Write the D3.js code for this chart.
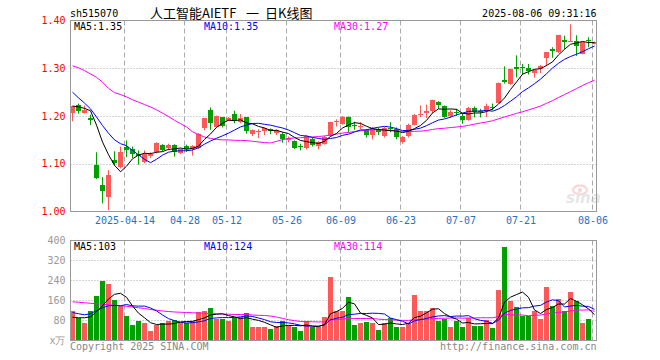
<!DOCTYPE html>
<html>
<head>
<meta charset="utf-8">
<script src="https://cdn.jsdelivr.net/npm/d3@7/dist/d3.min.js"></script>
<style>
  body { margin: 0; background: #fff; }
  svg text { font-family: "DejaVu Sans Mono", monospace; font-size: 10px; }
</style>
</head>
<body>
<svg width="660" height="360"></svg>
<script>
// trading days shown on the chart
const dates = [
  "2025-03-31","2025-04-01","2025-04-02","2025-04-03","2025-04-07","2025-04-08","2025-04-09","2025-04-10","2025-04-11",
  "2025-04-14","2025-04-15","2025-04-16","2025-04-17","2025-04-18","2025-04-21","2025-04-22","2025-04-23","2025-04-24","2025-04-25",
  "2025-04-28","2025-04-29","2025-04-30","2025-05-06","2025-05-07","2025-05-08","2025-05-09",
  "2025-05-12","2025-05-13","2025-05-14","2025-05-15","2025-05-16","2025-05-19","2025-05-20","2025-05-21","2025-05-22","2025-05-23",
  "2025-05-26","2025-05-27","2025-05-28","2025-05-29","2025-05-30","2025-06-03","2025-06-04","2025-06-05","2025-06-06",
  "2025-06-09","2025-06-10","2025-06-11","2025-06-12","2025-06-13","2025-06-16","2025-06-17","2025-06-18","2025-06-19","2025-06-20",
  "2025-06-23","2025-06-24","2025-06-25","2025-06-26","2025-06-27","2025-06-30","2025-07-01","2025-07-02","2025-07-03","2025-07-04",
  "2025-07-07","2025-07-08","2025-07-09","2025-07-10","2025-07-11","2025-07-14","2025-07-15","2025-07-16","2025-07-17","2025-07-18",
  "2025-07-21","2025-07-22","2025-07-23","2025-07-24","2025-07-25","2025-07-28","2025-07-29","2025-07-30","2025-07-31","2025-08-01",
  "2025-08-04","2025-08-05","2025-08-06"
];

const open = [
  1.206,1.222,1.207,1.195,1.098,1.056,1.030,1.107,1.093,1.135,
  1.131,1.121,1.104,1.117,1.124,1.140,1.133,1.140,1.123,1.137,
  1.130,1.133,1.175,1.212,1.178,1.197,1.191,1.205,1.188,1.197,
  1.163,1.166,1.169,1.173,1.165,1.163,1.149,1.148,1.138,1.134,
  1.151,1.137,1.142,1.159,1.187,1.184,1.197,1.182,1.177,1.171,
  1.161,1.172,1.159,1.175,1.172,1.146,1.159,1.182,1.203,1.207,
  1.211,1.230,1.220,1.199,1.209,1.200,1.191,1.217,1.211,1.210,
  1.219,1.228,1.276,1.268,1.302,1.302,1.300,1.291,1.298,1.322,
  1.341,1.333,1.360,1.356,1.358,1.330,1.359,1.351
];
const high = [
  1.221,1.226,1.222,1.203,1.124,1.072,1.087,1.126,1.136,1.149,
  1.136,1.128,1.128,1.124,1.145,1.141,1.142,1.141,1.132,1.140,
  1.139,1.164,1.196,1.218,1.201,1.198,1.198,1.211,1.204,1.198,
  1.172,1.172,1.175,1.174,1.172,1.166,1.157,1.149,1.142,1.160,
  1.155,1.148,1.158,1.188,1.193,1.200,1.199,1.188,1.187,1.173,
  1.177,1.175,1.177,1.187,1.176,1.158,1.184,1.204,1.222,1.224,
  1.234,1.231,1.222,1.213,1.215,1.205,1.219,1.220,1.215,1.226,
  1.226,1.270,1.304,1.299,1.327,1.309,1.309,1.298,1.307,1.334,
  1.344,1.370,1.368,1.392,1.369,1.355,1.365,1.356
];
const low = [
  1.189,1.205,1.205,1.181,1.068,1.017,1.003,1.096,1.090,1.114,
  1.112,1.098,1.101,1.112,1.122,1.126,1.128,1.115,1.120,1.125,
  1.117,1.131,1.170,1.171,1.176,1.176,1.189,1.185,1.185,1.163,
  1.158,1.154,1.160,1.162,1.160,1.144,1.145,1.131,1.128,1.130,
  1.136,1.130,1.140,1.157,1.178,1.182,1.165,1.171,1.172,1.155,
  1.151,1.160,1.155,1.166,1.151,1.142,1.155,1.180,1.198,1.196,
  1.206,1.215,1.196,1.196,1.200,1.184,1.190,1.197,1.197,1.198,
  1.212,1.227,1.268,1.265,1.281,1.287,1.287,1.280,1.290,1.304,
  1.322,1.332,1.340,1.355,1.326,1.329,1.344,1.350
];
const close = [
  1.220,1.210,1.212,1.192,1.071,1.043,1.077,1.101,1.124,1.129,
  1.121,1.116,1.120,1.120,1.143,1.128,1.140,1.124,1.130,1.130,
  1.137,1.163,1.195,1.186,1.200,1.180,1.195,1.190,1.195,1.168,
  1.170,1.168,1.174,1.168,1.170,1.151,1.153,1.134,1.136,1.158,
  1.140,1.145,1.156,1.187,1.189,1.197,1.177,1.180,1.179,1.160,
  1.172,1.167,1.175,1.172,1.157,1.155,1.181,1.203,1.205,1.210,
  1.233,1.224,1.198,1.209,1.206,1.191,1.217,1.209,1.209,1.220,
  1.218,1.269,1.272,1.298,1.299,1.300,1.295,1.297,1.304,1.333,
  1.337,1.369,1.355,1.357,1.346,1.354,1.357,1.354
];
// volume, in units of 10k
const volume = [
  117,91,69,117,180,237,225,164,139,100,
  64,80,72,40,64,72,80,83,72,72,
  77,113,117,131,88,85,77,91,96,109,
  53,53,53,45,60,80,64,53,37,77,
  56,53,96,253,120,120,176,64,69,73,
  69,44,72,91,56,56,71,184,120,120,
  131,80,87,53,77,53,91,57,57,83,
  49,204,373,157,136,99,99,120,85,216,
  140,168,120,196,160,69,88,4
];

// moving average values at the left edge (history before the window)
const ma5Head = [1.221,1.219,1.216,1.211];
const ma10Head = [1.250,1.238,1.227,1.215,1.198,1.180,1.164,1.150,1.142];
const ma30Head = [1.305,1.301,1.295,1.288,1.281,1.271,1.258,1.249,1.245,1.240,
  1.234,1.229,1.224,1.219,1.213,1.206,1.199,1.191,1.184,1.177,
  1.167,1.161,1.156,1.153,1.151,1.150,1.150,1.149,1.149];
const vma5Head = [93,91,91,95];
const vma10Head = [112,107,103,107,120,131,139,140,139];
const vma30Head = [155,153,151,149,147,145,143,141,139,137,
  134,131,128,124,121,118,116,114,113,112,
  111,110,109,108,107,106,105,104,104];

const priceTicks = [1.00,1.10,1.20,1.30,1.40];
const volTicks = [0,80,160,240,320,400];
const tickDates = ["2025-04-14","2025-04-28","2025-05-12","2025-05-26","2025-06-09","2025-06-23","2025-07-07","2025-07-21","2025-08-06"];
const tickLabels = ["2025-04-14","04-28","05-12","05-26","06-09","06-23","07-07","07-21","08-06"];
const priceMaLabels = ["MA5:1.35","MA10:1.35","MA30:1.27"];
const volMaLabels = ["MA5:103","MA10:124","MA30:114"];
const maColors = ["#000000","#0000ff","#ff00ff"];

const UP = "#ff5858", DOWN = "#00a000";

const svg = d3.select("svg");
const L = 70.5, R = 596.5;
const pTop = 20.5, pBot = 211.5, vTop = 240.5, vBot = 340.5;

const x = d3.scalePoint().domain(dates).range([72.5, 594.5]);
const yP = d3.scaleLinear().domain([1.0, 1.4]).range([pBot, pTop]);
const yV = d3.scaleLinear().domain([0, 400]).range([vBot, vTop]);

function movingAvg(vals, n, head) {
  return vals.map((v, i) => {
    if (i < n - 1) return head[i];
    return d3.mean(vals.slice(i - n + 1, i + 1));
  });
}

// grid
const grid = svg.append("g").attr("stroke", "#aaa").attr("stroke-width", 1);
grid.selectAll(".hp").data(priceTicks.slice(1, 4)).enter().append("line")
  .attr("x1", L).attr("x2", R)
  .attr("y1", d => Math.round(yP(d)) + 0.5).attr("y2", d => Math.round(yP(d)) + 0.5)
  .attr("stroke-dasharray", "1,2");
grid.selectAll(".hv").data(volTicks.slice(1, 5)).enter().append("line")
  .attr("x1", L).attr("x2", R)
  .attr("y1", d => yV(d)).attr("y2", d => yV(d))
  .attr("stroke-dasharray", "1,2");
[[pTop, pBot], [vTop, vBot]].forEach(([a, b]) => {
  grid.selectAll(null).data(tickDates).enter().append("line")
    .attr("x1", d => x(d) - 2).attr("x2", d => x(d) - 2)
    .attr("y1", a).attr("y2", b)
    .attr("stroke-dasharray", "5,3");
});

// sina watermark
const wm = svg.append("g").attr("opacity", 0.45);
wm.append("ellipse").attr("cx", 580).attr("cy", 190).attr("rx", 7).attr("ry", 4.5)
  .attr("fill", "none").attr("stroke", "#f0a0a0").attr("stroke-width", 2);
wm.append("circle").attr("cx", 580).attr("cy", 190).attr("r", 2).attr("fill", "#f0a0a0");
wm.append("text").attr("x", 566).attr("y", 203)
  .style("font-family", "DejaVu Sans").style("font-size", "15px").style("font-weight", "bold").style("font-style", "italic")
  .attr("fill", "#c8c8c8").text("sina");

// candles
const idx = d3.range(dates.length);
const candles = svg.append("g").selectAll("g").data(idx).enter().append("g");
candles.append("line")
  .attr("x1", i => x(dates[i])).attr("x2", i => x(dates[i]))
  .attr("y1", i => yP(high[i])).attr("y2", i => yP(low[i]))
  .attr("stroke", i => close[i] >= open[i] ? UP : DOWN);
candles.append("rect")
  .attr("x", i => x(dates[i]) - 2.5)
  .attr("y", i => yP(Math.max(open[i], close[i])))
  .attr("width", 5)
  .attr("height", i => Math.max(1, Math.abs(yP(open[i]) - yP(close[i]))))
  .attr("fill", i => close[i] >= open[i] ? UP : DOWN)
  .attr("shape-rendering", "crispEdges");

// volume bars
svg.append("g").selectAll("rect").data(idx).enter().append("rect")
  .attr("x", i => x(dates[i]) - 2.5)
  .attr("y", i => yV(volume[i]))
  .attr("width", 5)
  .attr("height", i => yV(0) - yV(volume[i]))
  .attr("fill", i => close[i] >= open[i] ? UP : DOWN)
  .attr("shape-rendering", "crispEdges");

// moving average lines
const priceMAs = [movingAvg(close, 5, ma5Head), movingAvg(close, 10, ma10Head), movingAvg(close, 30, ma30Head)];
const volMAs = [movingAvg(volume, 5, vma5Head), movingAvg(volume, 10, vma10Head), movingAvg(volume, 30, vma30Head)];
const lineP = d3.line().x((d, i) => x(dates[i])).y(d => yP(d));
const lineV = d3.line().x((d, i) => x(dates[i])).y(d => yV(d));
[2, 1, 0].forEach(k => {
  svg.append("path").attr("d", lineP(priceMAs[k])).attr("fill", "none").attr("stroke", maColors[k]).attr("stroke-width", 1);
  svg.append("path").attr("d", lineV(volMAs[k])).attr("fill", "none").attr("stroke", maColors[k]).attr("stroke-width", 1);
});

// frames
svg.append("rect").attr("x", L).attr("y", pTop).attr("width", R - L).attr("height", pBot - pTop)
  .attr("fill", "none").attr("stroke", "#999");
svg.append("rect").attr("x", L).attr("y", vTop).attr("width", R - L).attr("height", vBot - vTop)
  .attr("fill", "none").attr("stroke", "#999");

// axes
const axP = svg.append("g").attr("transform", `translate(${L},0)`)
  .call(d3.axisLeft(yP).tickValues(priceTicks).tickSize(0).tickPadding(5).tickFormat(d3.format(".2f")));
axP.select(".domain").remove();
axP.selectAll("text").attr("fill", "#ff0000").style("font-family", "DejaVu Sans Mono").style("font-size", "10px");

const axV = svg.append("g").attr("transform", `translate(${L},0)`)
  .call(d3.axisLeft(yV).tickValues(volTicks).tickSize(0).tickPadding(5).tickFormat(d => d === 0 ? "x万" : d));
axV.select(".domain").remove();
axV.selectAll("text").attr("fill", "#999").style("font-family", "DejaVu Sans Mono").style("font-size", "10px");

const axX = svg.append("g").attr("transform", `translate(-2,${pBot})`)
  .call(d3.axisBottom(x).tickValues(tickDates).tickSize(0).tickPadding(5)
    .tickFormat(d => tickLabels[tickDates.indexOf(d)]));
axX.select(".domain").remove();
axX.selectAll("text").attr("fill", "#2a72c0").style("font-family", "DejaVu Sans Mono").style("font-size", "10px");

// MA labels
const maX = [74, 204, 334];
svg.selectAll(".pml").data(priceMaLabels).enter().append("text")
  .attr("x", (d, i) => maX[i]).attr("y", 30).attr("fill", (d, i) => maColors[i]).text(d => d);
svg.selectAll(".vml").data(volMaLabels).enter().append("text")
  .attr("x", (d, i) => maX[i]).attr("y", 250).attr("fill", (d, i) => maColors[i]).text(d => d);

// header
svg.append("text").attr("x", 70).attr("y", 16.5).attr("fill", "#000").text("sh515070");
const title = svg.append("text").attr("y", 17.5).attr("fill", "#000")
  .style("font-family", "'Noto Sans CJK SC', sans-serif").style("font-size", "13px");
title.append("tspan").attr("x", 150).text("人工智能AIETF");
title.append("tspan").attr("x", 246).text("一");
title.append("tspan").attr("x", 265).text("日K线图");
svg.append("text").attr("x", R).attr("y", 16.5).attr("text-anchor", "end").attr("fill", "#000")
  .text("2025-08-06 09:31:16");

// footer
svg.append("text").attr("x", 70).attr("y", 350).attr("fill", "#888").text("Copyright 2025 SINA.COM");
svg.append("text").attr("x", R).attr("y", 350).attr("text-anchor", "end").attr("fill", "#888")
  .text("http://finance.sina.com.cn");
</script>
</body>
</html>
